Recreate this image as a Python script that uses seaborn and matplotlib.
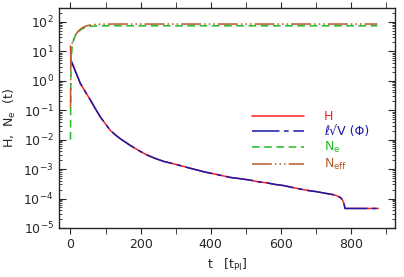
import numpy as np
import matplotlib
matplotlib.use("Agg")
import matplotlib.pyplot as plt
import seaborn as sns
from matplotlib.ticker import LogLocator, MultipleLocator, NullFormatter

# data
t_h = [0, 1, 3, 15, 28, 42, 57, 71, 85, 100, 114, 128, 142, 171, 199, 218, 242, 266, 290,
       313, 337, 361, 384, 408, 432, 456, 485, 513, 536, 560, 584, 608, 631, 655, 679, 703,
       726, 750, 760, 769, 775, 779, 781, 783, 830, 878]
h_vals = [15, 4.6, 4.42, 1.95, 0.813, 0.427, 0.219, 0.112, 0.0589, 0.0339, 0.0204, 0.0145,
          0.0107, 0.0063, 0.00398, 0.00302, 0.00229, 0.00182, 0.00155, 0.00132, 0.0011,
          9.3e-4, 7.9e-4, 6.9e-4, 6.0e-4, 5.2e-4, 4.7e-4, 4.2e-4, 3.7e-4, 3.4e-4, 3.0e-4,
          2.75e-4, 2.4e-4, 2.1e-4, 1.86e-4, 1.7e-4, 1.51e-4, 1.35e-4, 1.23e-4, 1.1e-4,
          9.3e-5, 7.4e-5, 6.0e-5, 4.6e-5, 4.6e-5, 4.6e-5]
t_v = t_h[1:]
v_vals = h_vals[1:]
t_ne = [0, 1, 2, 5, 9, 14, 22, 33, 45, 60, 80, 120, 875]
ne_vals = [0.01, 1, 5, 17, 25, 34, 46, 58, 66, 71, 73, 73, 73]
t_neff = [0, 1, 3, 5, 9, 14, 22, 33, 45, 60, 80, 120, 875]
neff_vals = [0.12, 15, 17, 19, 26, 36, 48, 62, 73, 79, 83, 84, 84]

labels = ["H", "ℓ√V (Φ)", r"N$_\mathrm{e}$", r"N$_\mathrm{eff}$"]
colors = ["#ff2020", "#1a1aa8", "#22bb22", "#b05a30"]

sns.set_style("ticks")
plt.rcParams["font.family"] = ["DejaVu Sans"]
plt.rcParams["font.size"] = 8

fig, ax = plt.subplots(figsize=(4.04, 2.77), dpi=100)
fig.subplots_adjust(left=0.145, right=0.978, top=0.972, bottom=0.177)

sns.lineplot(x=t_h, y=h_vals, ax=ax, color=colors[0], lw=1.1, label=labels[0])
sns.lineplot(x=t_v, y=v_vals, ax=ax, color=colors[1], lw=1.1, label=labels[1])
ax.lines[-1].set_dashes([18, 3, 3, 3])
sns.lineplot(x=t_ne, y=ne_vals, ax=ax, color=colors[2], lw=1.1, label=labels[2])
ax.lines[-1].set_dashes([5, 3])
sns.lineplot(x=t_neff, y=neff_vals, ax=ax, color=colors[3], lw=1.1, label=labels[3])
ax.lines[-1].set_dashes([13, 2, 1, 2, 1, 2, 1, 2])

ax.set_yscale("log")
ax.set_xlim(-34, 926)
ax.set_ylim(1e-5, 300)

ax.xaxis.set_major_locator(MultipleLocator(200))
ax.xaxis.set_minor_locator(MultipleLocator(100))
ax.tick_params(axis="x", which="both", direction="out", length=4, top=True, labelsize=9)
ax.yaxis.set_major_locator(LogLocator(base=10, numticks=10))
ax.yaxis.set_minor_locator(LogLocator(base=10, subs=np.arange(2, 10), numticks=10))
ax.yaxis.set_minor_formatter(NullFormatter())
ax.tick_params(axis="y", which="major", direction="in", length=5, right=True, labelsize=9)
ax.tick_params(axis="y", which="minor", direction="in", length=2.5, right=True)
for s in ax.spines.values():
    s.set_linewidth(1.0)

ax.set_xlabel(r"t   [t$_\mathrm{Pl}$]", fontsize=9)
ax.set_ylabel(r"H,  N$_\mathrm{e}$  (t)", fontsize=9)

leg = ax.legend(loc="upper left", bbox_to_anchor=(0.54, 0.585), frameon=False,
                handlelength=4.2, handletextpad=1.6, labelspacing=0.15, fontsize=9)
for txt, c in zip(leg.get_texts(), colors):
    txt.set_color(c)

fig.savefig("out.png", dpi=100)
